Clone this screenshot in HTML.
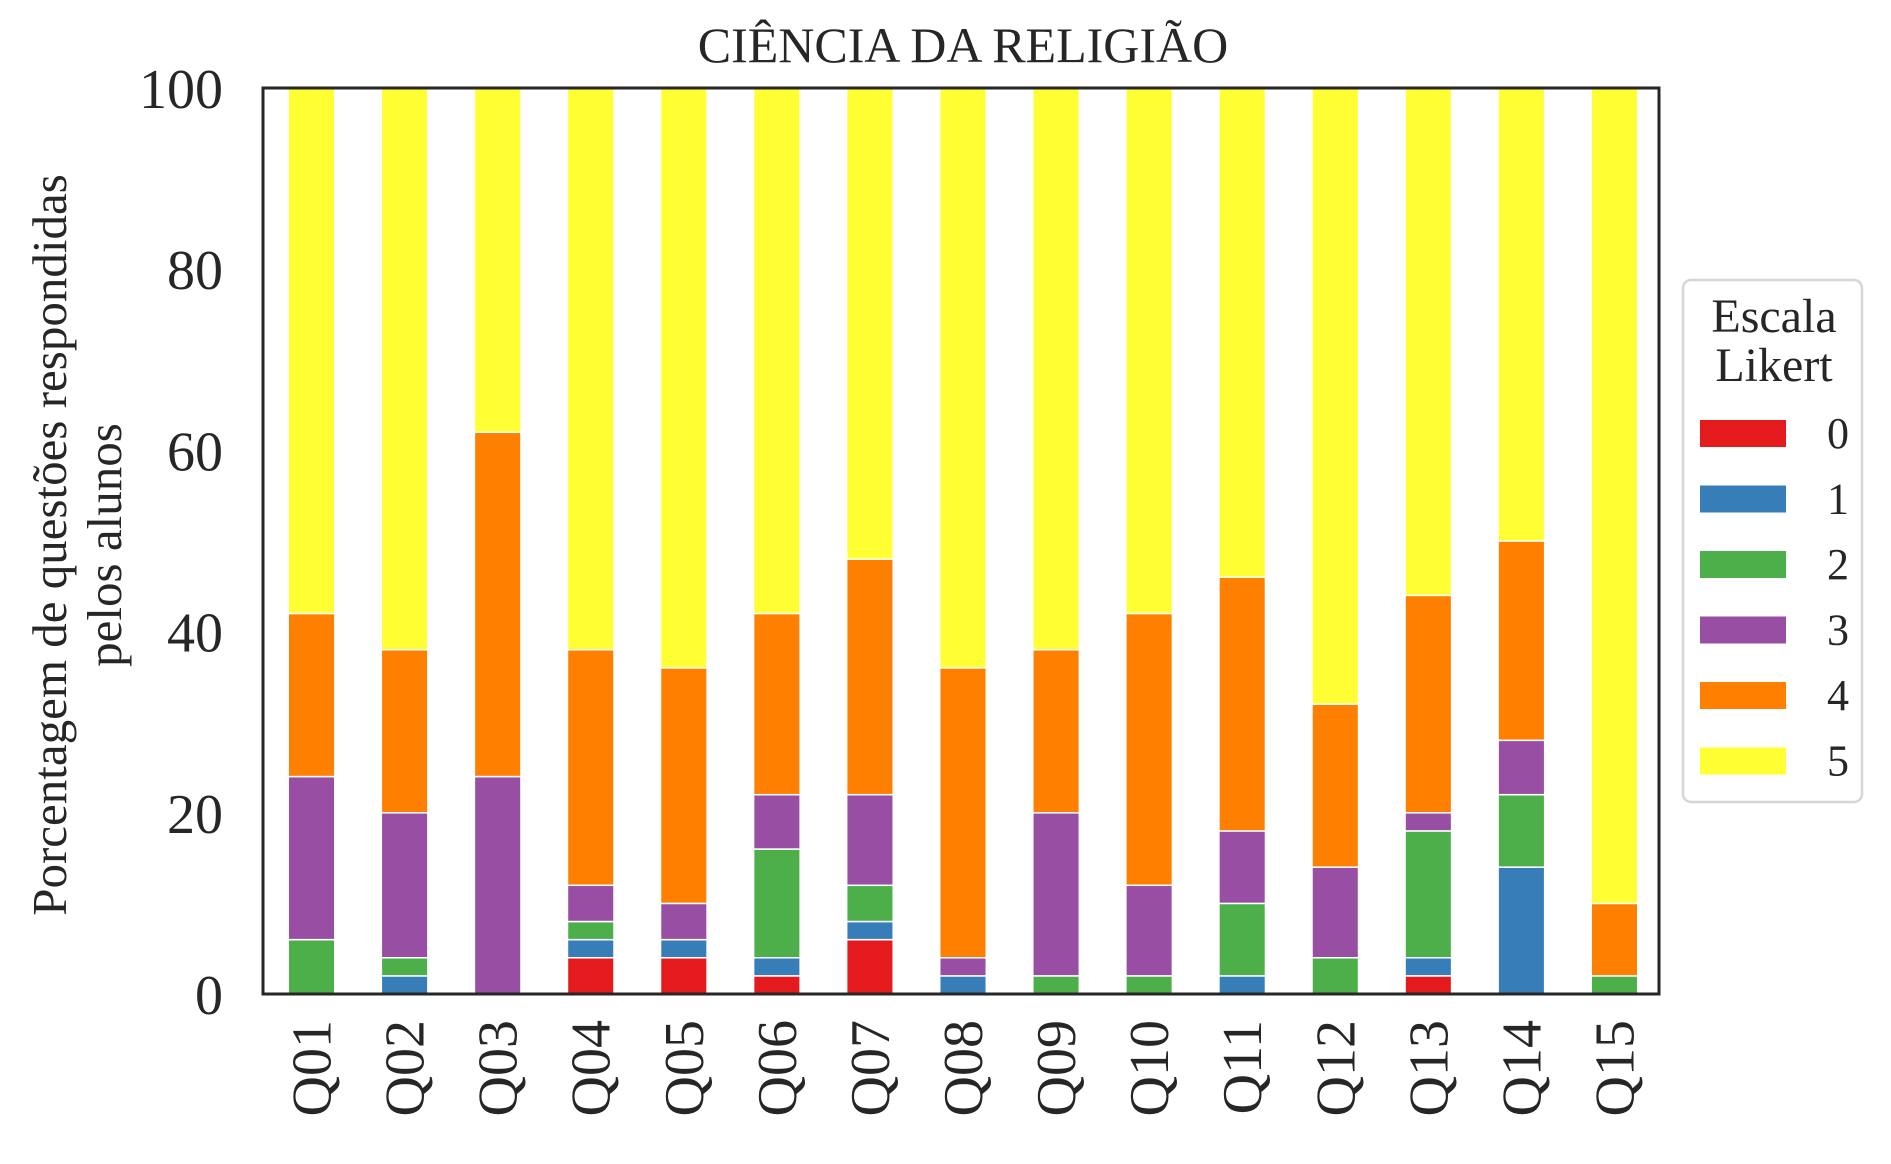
<!DOCTYPE html>
<html><head><meta charset="utf-8"><style>
html,body{margin:0;padding:0;background:#fff;}
svg text{font-family:"Liberation Serif",serif;fill:#262626;}
</style></head><body>
<svg id="chart" width="1891" height="1159" xmlns="http://www.w3.org/2000/svg">
<text x="963" y="62" font-size="50" text-anchor="middle">CIÊNCIA DA RELIGIÃO</text>
<g id="yl">
<text transform="translate(66,545) rotate(-90)" font-size="49" text-anchor="middle">Porcentagem de questões respondidas</text>
<text transform="translate(121,545) rotate(-90)" font-size="49" text-anchor="middle">pelos alunos</text>
</g>
<g id="bars"></g><g id="axes"></g>
<g id="legend"></g>
</svg>
<script>
const categories=["Q01","Q02","Q03","Q04","Q05","Q06","Q07","Q08","Q09","Q10","Q11","Q12","Q13","Q14","Q15"];
const levels=["0","1","2","3","4","5"];
const colors=["#e41a1c","#377eb8","#4daf4a","#984ea3","#ff7f00","#ffff33"];
const s0=[0,0,0,4,4,2,6,0,0,0,0,0,2,0,0];
const s1=[0,2,0,2,2,2,2,2,0,0,2,0,2,14,0];
const s2=[6,2,0,2,0,12,4,0,2,2,8,4,14,8,2];
const s3=[18,16,24,4,4,6,10,2,18,10,8,10,2,6,0];
const s4=[18,18,38,26,26,20,26,32,18,30,28,18,24,22,8];
const s5=[58,62,38,62,64,58,52,64,62,58,54,68,56,50,90];
const yTicks=[0,20,40,60,80,100];
const series=[s0,s1,s2,s3,s4,s5];
const NS="http://www.w3.org/2000/svg";
const L=263,R=1659,T=88,B=994;
const x=i=>L+2+(i+0.5)*(R-L)/categories.length;
const y=v=>B-(B-T)*v/100;
const bw=(R-L)/categories.length*0.5;
function mk(tag,attrs,parent){const e=document.createElementNS(NS,tag);for(const k in attrs)e.setAttribute(k,attrs[k]);parent.appendChild(e);return e;}
const bars=document.getElementById('bars');
categories.forEach((c,i)=>{let cum=0;
 series.forEach((s,k)=>{const v=s[i];if(v>0){
  const r=mk('rect',{x:x(i)-bw/2,y:y(cum+v),width:bw,height:y(cum)-y(cum+v),fill:colors[k],stroke:'#fff','stroke-width':1.5},bars);
  
  }
  cum+=v;});});
const ax=document.getElementById('axes');
const fr=mk('rect',{x:L,y:T,width:R-L,height:B-T,fill:'none',stroke:'#262626','stroke-width':3},ax);


yTicks.forEach(t=>{const tx=mk('text',{x:223,y:y(t)+20,'font-size':56,'text-anchor':'end'},ax);tx.textContent=t;
 
 });
categories.forEach((c,i)=>{const tx=mk('text',{transform:`translate(${x(i)+19},1020) rotate(-90)`,'font-size':56,'text-anchor':'end'},ax);tx.textContent=c;
 
 });
const lg=document.getElementById('legend');
mk('rect',{x:1683,y:280,width:179,height:522,rx:8,fill:'#fff',stroke:'#d6d6d6','stroke-width':2.5},lg);
let t1=mk('text',{x:1774,y:332,'font-size':48,'text-anchor':'middle'},lg);t1.textContent='Escala';
let t2=mk('text',{x:1774,y:381,'font-size':48,'text-anchor':'middle'},lg);t2.textContent='Likert';
levels.forEach((l,k)=>{const yy=420+k*65.5;
 const r=mk('rect',{x:1700,y:yy,width:86,height:27,fill:colors[k]},lg);
 
 
 const tx=mk('text',{x:1838,y:yy+28,'font-size':44,'text-anchor':'middle'},lg);tx.textContent=l;
 
 });
</script>
</body></html>
